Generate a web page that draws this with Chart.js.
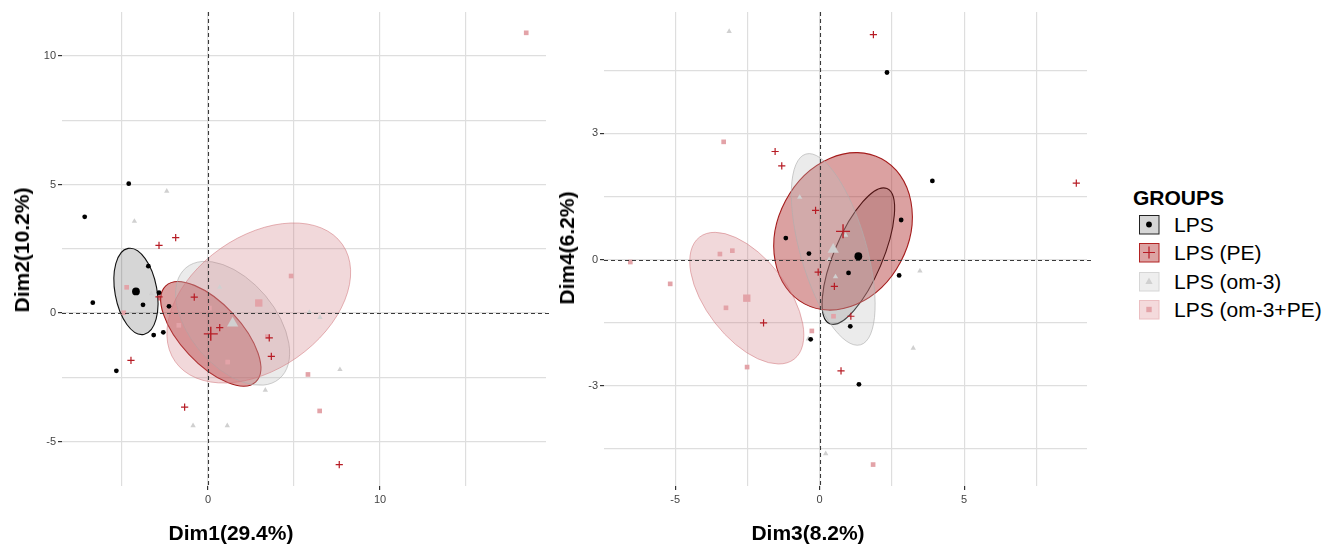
<!DOCTYPE html>
<html>
<head>
<meta charset="utf-8">
<script src="https://cdn.jsdelivr.net/npm/chart.js@4.4.1/dist/chart.umd.min.js"></script>
<style>
  body { margin: 0; background: #fff; font-family: "Liberation Sans", Arial, Helvetica, sans-serif; }
  #wrap { position: relative; width: 1329px; height: 546px; overflow: hidden; background: #fff; }
  canvas { position: absolute; top: 0; }
  .axis-title { position: absolute; font-weight: bold; font-size: 21px; line-height: 24px; color: #000; white-space: nowrap; }
  .ytitle { transform: translate(-50%, -50%) rotate(-90deg); }
  .xtitle { transform: translate(-50%, -50%); }
  #legend { position: absolute; left: 1133px; top: 186px; }
  #legend .ttl { font-weight: bold; font-size: 21px; line-height: 24px; margin-bottom: 5px; }
  #legend .item { position: relative; height: 28.4px; }
  #legend svg { position: absolute; left: 6px; top: 0; }
  #legend .lbl { position: absolute; left: 41px; top: -2px; font-size: 21px; line-height: 24px; white-space: nowrap; }
</style>
</head>
<body>
<div id="wrap">
  <canvas id="c12" width="560" height="546" style="left:0"></canvas>
  <canvas id="c34" width="540" height="546" style="left:560px"></canvas>
  <div class="axis-title xtitle" style="left:231px; top:533px">Dim1(29.4%)</div>
  <div class="axis-title ytitle" style="left:22px; top:250px">Dim2(10.2%)</div>
  <div class="axis-title xtitle" style="left:808px; top:533px">Dim3(8.2%)</div>
  <div class="axis-title ytitle" style="left:567px; top:248px">Dim4(6.2%)</div>
  <div id="legend"></div>
</div>
<script>
const groups = ['LPS', 'LPS (PE)', 'LPS (om-3)', 'LPS (om-3+PE)'];

// Dim1 / Dim2 individuals
const lpsD12 = [[-4.61,5.03],[-7.17,3.74],[-3.47,1.82],[-2.85,0.79],[-3.78,0.32],[-6.70,0.40],[-2.27,0.26],[-3.16,-0.86],[-2.60,-0.75],[-5.33,-2.25]];
const peD12 = [[-2.85,2.63],[-1.88,2.93],[-2.85,0.63],[-0.80,0.62],[0.68,-0.57],[3.56,-0.97],[3.68,-1.69],[-4.48,-1.84],[-1.36,-3.66],[7.63,-5.90]];
const om3D12 = [[-2.40,4.74],[-4.28,3.57],[-3.30,0.75],[0.68,1.00],[5.89,0.03],[6.51,-0.17],[7.67,-2.20],[3.33,-3.00],[-0.87,-4.38],[1.12,-4.38]];
const om3peD12 = [[18.5,10.9],[-4.73,1.00],[-4.90,0.01],[0.08,0.19],[-1.70,-0.48],[4.83,1.44],[3.45,-0.92],[1.14,-1.91],[5.81,-2.39],[6.49,-3.81]];
const meansD12 = [[-4.19,0.84],[0.16,-0.81],[1.43,-0.40],[2.95,0.39]];
// ellipse half-axes (major, minor) in data units, one per group
const axesD12 = [[[0.456,-1.673],[1.20,0.147]],[[2.616,-1.868],[1.273,0.798]],[[2.71,-2.16],[1.91,1.07]],[[4.86,2.28],[2.22,-2.12]]];

// Dim3 / Dim4 individuals
const lpsD34 = [[3.90,1.87],[2.82,0.94],[-1.17,0.51],[-0.37,0.14],[1.00,-0.32],[2.75,-0.38],[1.06,-1.59],[-0.31,-1.90],[1.36,-2.97],[2.33,4.45]];
const peD34 = [[1.86,5.35],[-1.54,2.57],[-1.31,2.23],[-0.14,1.17],[-0.05,-0.30],[0.51,-0.64],[1.08,-1.35],[-1.94,-1.51],[0.74,-2.65],[8.88,1.82]];
const om3D34 = [[-3.13,5.43],[-0.69,1.48],[0.90,0.58],[0.33,0.00],[0.55,-0.41],[3.47,-0.27],[3.24,-2.11],[-0.39,-1.89],[0.21,-4.62]];
const om3peD34 = [[-3.32,2.80],[-6.55,-0.06],[-5.17,-0.58],[-3.45,0.13],[-3.02,0.21],[-3.24,-1.15],[0.48,-1.35],[-0.27,-1.70],[-2.51,-2.56],[1.85,-4.88]];
const meansD34 = [[1.34,0.08],[0.81,0.67],[0.47,0.24],[-2.52,-0.92]];
const axesD34 = [[[0.99,1.607],[0.77,-0.225]],[[1.333,1.726],[1.99,-0.729]],[[0.945,-2.27],[1.10,0.217]],[[1.637,-1.452],[1.102,0.588]]];

// axis ranges, grid breaks and labelled breaks
const rangeD1 = [-8.49, 19.65], rangeD2 = [-6.73, 11.71];
const gridD1 = [-5, 0, 5, 10, 15], labelsD1 = [0, 10];
const gridD2 = [-5, -2.5, 0, 2.5, 5, 7.5, 10], labelsD2 = [-5, 0, 5, 10];
const rangeD3 = [-7.46, 9.25], rangeD4 = [-5.39, 5.89];
const gridD3 = [-5, -2.5, 0, 2.5, 5, 7.5], labelsD3 = [-5, 0, 5];
const gridD4 = [-4.5, -3, -1.5, 0, 1.5, 3, 4.5], labelsD4 = [-3, 0, 3];

// look
const FONT = '"Liberation Sans", Arial, Helvetica, sans-serif';
const pointColors = ['#000000', '#b71c25', '#d0d0d0', '#e3a3a8'];
const pointStyles = ['circle', 'cross', 'triangle', 'rect'];
const pointSizes = [2.4, 3.6, 3.1, 3.3];
const meanSizes = [3.9, 7, 6.5, 5.2];
const ellFill = ['rgba(0,0,0,0.16)', 'rgba(170,30,30,0.42)', 'rgba(190,190,190,0.3)', 'rgba(205,110,120,0.27)'];
const ellLine = ['#111111', '#a51c1c', 'rgba(175,175,175,0.8)', 'rgba(210,120,125,0.7)'];
const ellWidth = [1.1, 1.1, 0.8, 0.8];

const toXY = arr => arr.map(p => ({ x: p[0], y: p[1] }));

function ellipsePlugin(means, axes) {
  return {
    id: 'groupEllipses',
    beforeDatasetsDraw(chart) {
      const { ctx, chartArea: a, scales: { x, y } } = chart;
      ctx.save();
      ctx.beginPath();
      ctx.rect(a.left, a.top, a.right - a.left, a.bottom - a.top);
      ctx.clip();
      means.forEach((m, i) => {
        const [maj, min] = axes[i];
        const cx = x.getPixelForValue(m[0]), cy = y.getPixelForValue(m[1]);
        const ux = x.getPixelForValue(m[0] + maj[0]) - cx, uy = y.getPixelForValue(m[1] + maj[1]) - cy;
        const vx = x.getPixelForValue(m[0] + min[0]) - cx, vy = y.getPixelForValue(m[1] + min[1]) - cy;
        ctx.save();
        ctx.beginPath();
        ctx.transform(ux, uy, vx, vy, cx, cy);
        ctx.arc(0, 0, 1, 0, Math.PI * 2);
        ctx.restore();
        ctx.fillStyle = ellFill[i];
        ctx.fill();
        ctx.strokeStyle = ellLine[i];
        ctx.lineWidth = ellWidth[i];
        ctx.stroke();
      });
      ctx.restore();
    },
    afterDatasetsDraw(chart) {
      const { ctx, chartArea: a, scales: { x, y } } = chart;
      const x0 = Math.round(x.getPixelForValue(0)) + 0.5, y0 = Math.round(y.getPixelForValue(0)) + 0.5;
      ctx.save();
      ctx.strokeStyle = '#3a3a3a';
      ctx.lineWidth = 1.1;
      ctx.setLineDash([4, 3]);
      ctx.beginPath();
      ctx.moveTo(a.left, y0); ctx.lineTo(a.right + 4, y0);
      ctx.moveTo(x0, a.top); ctx.lineTo(x0, a.bottom);
      ctx.stroke();
      ctx.restore();
    }
  };
}

function axis(range, grid, labels, isX, fitSize) {
  return {
    type: 'linear',
    min: range[0],
    max: range[1],
    afterBuildTicks: s => { s.ticks = grid.map(v => ({ value: v })); },
    afterFit: s => { if (isX) s.height = fitSize; else s.width = fitSize; },
    border: { display: false },
    grid: {
      color: '#dedede',
      lineWidth: 1.2,
      drawTicks: true,
      tickLength: 4,
      tickColor: c => (c.tick && labels.includes(c.tick.value)) ? '#333' : 'rgba(0,0,0,0)'
    },
    ticks: {
      autoSkip: false,
      maxRotation: 0,
      padding: isX ? 3 : 2,
      color: '#444',
      font: { family: FONT, size: 11 },
      callback: v => labels.includes(v) ? String(v) : ''
    }
  };
}

function makePanel(id, seriesList, means, axes, xr, yr, xg, xl, yg, yl, yWidth, padRight) {
  const datasets = [];
  seriesList.forEach((s, i) => {
    datasets.push({
      label: groups[i],
      data: toXY(s),
      order: 1,
      pointStyle: pointStyles[i],
      pointRadius: pointSizes[i],
      backgroundColor: pointColors[i],
      borderColor: pointColors[i],
      borderWidth: i === 1 ? 1.2 : 0
    });
  });
  means.forEach((m, i) => {
    datasets.push({
      label: groups[i] + ' mean',
      data: toXY([m]),
      order: 0,
      pointStyle: pointStyles[i],
      pointRadius: meanSizes[i],
      backgroundColor: pointColors[i],
      borderColor: pointColors[i],
      borderWidth: i === 1 ? 1.4 : 0
    });
  });
  return new Chart(document.getElementById(id), {
    type: 'scatter',
    data: { datasets },
    options: {
      responsive: false,
      animation: false,
      events: [],
      layout: { padding: { left: 0, right: padRight, top: 12, bottom: 0 } },
      plugins: { legend: { display: false }, tooltip: { enabled: false } },
      scales: {
        x: axis(xr, xg, xl, true, 60),
        y: axis(yr, yg, yl, false, yWidth)
      }
    },
    plugins: [ellipsePlugin(means, axes)]
  });
}

makePanel('c12', [lpsD12, peD12, om3D12, om3peD12], meansD12, axesD12,
  rangeD1, rangeD2, gridD1, labelsD1, gridD2, labelsD2, 62, 14);
makePanel('c34', [lpsD34, peD34, om3D34, om3peD34], meansD34, axesD34,
  rangeD3, rangeD4, gridD3, labelsD3, gridD4, labelsD4, 44, 13);

// legend
const keyFill = ['#d6d6d6', '#dda3a3', '#eeeeee', '#f4dadc'];
const keyLine = ['#222222', '#b22222', '#d6d6d6', '#ebbfc2'];
const legend = document.getElementById('legend');
legend.innerHTML = '<div class="ttl">GROUPS</div>';
groups.forEach((g, i) => {
  let sym = '';
  const c = pointColors[i];
  if (i === 0) sym = `<circle cx="10" cy="9.5" r="2.9" fill="${c}"/>`;
  if (i === 1) sym = `<path d="M4 9.5H16M10 3.5V15.5" stroke="${c}" stroke-width="1.2" fill="none"/>`;
  if (i === 2) sym = `<path d="M10 5.5L13.6 12H6.4Z" fill="${c}"/>`;
  if (i === 3) sym = `<rect x="7.3" y="6.8" width="5.4" height="5.4" fill="${c}"/>`;
  const item = document.createElement('div');
  item.className = 'item';
  item.innerHTML = `<svg width="21" height="20"><rect x="0.5" y="0.5" width="19.5" height="18.5" fill="${keyFill[i]}" stroke="${keyLine[i]}" stroke-width="1"/>${sym}</svg><span class="lbl">${g}</span>`;
  legend.appendChild(item);
});
</script>
</body>
</html>
